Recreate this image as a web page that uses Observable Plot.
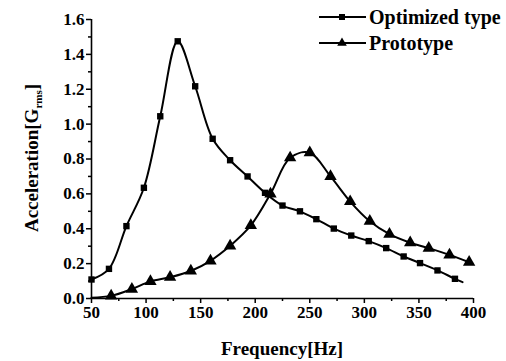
<!DOCTYPE html>
<html>
<head>
<meta charset="utf-8">
<script src="https://cdn.jsdelivr.net/npm/d3@7"></script>
<script src="https://cdn.jsdelivr.net/npm/@observablehq/plot@0.6"></script>
<style>
  html, body { margin: 0; padding: 0; background: #fff; }
  #chart { width: 506px; height: 361px; }
  #chart svg, #chart svg text { font-family: "Liberation Serif", "DejaVu Serif", serif !important; font-weight: bold; }
</style>
</head>
<body>
<div id="chart"></div>
<script>
// Optimized type (square markers)
const optFreq = [50, 66, 82, 98, 113, 129, 145, 161, 177, 193, 209, 225, 241, 256, 272, 288, 304, 320, 336, 351, 367, 383, 390];
const optAcc  = [0.109, 0.170, 0.415, 0.635, 1.045, 1.475, 1.217, 0.916, 0.793, 0.700, 0.606, 0.533, 0.500, 0.455, 0.401, 0.361, 0.329, 0.289, 0.241, 0.203, 0.161, 0.113, 0.094];
const optMarker = optFreq.map((_, i) => i < optFreq.length - 1);

// Prototype (triangle markers)
const protoFreq = [50, 68, 87, 104, 122, 141, 159, 177, 196, 214, 232, 250, 269, 287, 305, 323, 342, 359, 378, 396];
const protoAcc  = [0.005, 0.015, 0.054, 0.098, 0.122, 0.158, 0.216, 0.302, 0.419, 0.600, 0.807, 0.836, 0.700, 0.556, 0.443, 0.369, 0.320, 0.289, 0.250, 0.208];
const protoMarker = protoFreq.map((_, i) => i > 0);

const xTicks = [50, 100, 150, 200, 250, 300, 350, 400];
const xMinor = [75, 125, 175, 225, 275, 325, 375];
const yTicks = [0.0, 0.2, 0.4, 0.6, 0.8, 1.0, 1.2, 1.4, 1.6];
const yMinor = [0.1, 0.3, 0.5, 0.7, 0.9, 1.1, 1.3, 1.5];

const seriesNames = ["Optimized type", "Prototype"];
const xTitle = "Frequency[Hz]";
const yTitleMain = "Acceleration[G";
const yTitleSub = "rms";
const yTitleEnd = "]";

const opt = optFreq.map((f, i) => ({f, a: optAcc[i], m: optMarker[i]}));
const proto = protoFreq.map((f, i) => ({f, a: protoAcc[i], m: protoMarker[i]}));

const FONT = '"Liberation Serif", "DejaVu Serif", serif';

const chart = Plot.plot({
  width: 506,
  height: 361,
  marginLeft: 91,
  marginRight: 33,
  marginTop: 19,
  marginBottom: 63,
  style: {fontFamily: FONT, fontWeight: "bold", fontSize: "17px", color: "#000", background: "#fff", overflow: "visible"},
  x: {domain: [50, 400], label: null},
  y: {domain: [0, 1.6], label: null},
  marks: [
    Plot.axisX({ticks: xTicks, tickSize: 5, tickPadding: 2, tickFormat: d => String(d), strokeWidth: 1.5, fontSize: 17, fontWeight: "bold", fill: "#000"}),
    Plot.axisX({ticks: xMinor, tickSize: 3, text: null, strokeWidth: 1.5}),
    Plot.axisY({ticks: yTicks, tickSize: 5, tickPadding: 2, tickFormat: d3.format(".1f"), strokeWidth: 1.5, fontSize: 17, fontWeight: "bold", fill: "#000"}),
    Plot.axisY({ticks: yMinor, tickSize: 3, text: null, strokeWidth: 1.5}),
    Plot.ruleY([0], {stroke: "#000", strokeWidth: 1.6}),
    Plot.ruleX([50], {stroke: "#000", strokeWidth: 1.6}),
    Plot.line(opt, {x: "f", y: "a", curve: "catmull-rom", stroke: "#000", strokeWidth: 2}),
    Plot.line(proto, {x: "f", y: "a", curve: "catmull-rom", stroke: "#000", strokeWidth: 2}),
    Plot.dot(opt.filter(d => d.m), {x: "f", y: "a", symbol: "square", r: 3.6, fill: "#000", stroke: "none"}),
    Plot.dot(proto.filter(d => d.m), {x: "f", y: "a", symbol: "triangle", r: 4.6, fill: "#000", stroke: "none"})
  ]
});

document.getElementById("chart").appendChild(chart);

// Titles and legend drawn into the same SVG
const svg = d3.select(chart);
svg.append("text")
  .attr("x", 282).attr("y", 355)
  .attr("text-anchor", "middle")
  .style("font-family", FONT).style("font-weight", "bold").style("font-size", "19px")
  .attr("fill", "#000")
  .text(xTitle);

const yt = svg.append("text")
  .attr("transform", "translate(38,158) rotate(-90)")
  .attr("text-anchor", "middle")
  .style("font-family", FONT).style("font-weight", "bold").style("font-size", "19px")
  .attr("fill", "#000");
yt.append("tspan").text(yTitleMain);
yt.append("tspan").attr("dy", 4).style("font-size", "11px").text(yTitleSub);
yt.append("tspan").attr("dy", -4).text(yTitleEnd);

const legendY = [17, 43];
const legendSym = [d3.symbolSquare, d3.symbolTriangle];
const legendSymSize = [36, 40];
seriesNames.forEach((name, i) => {
  const g = svg.append("g").attr("transform", `translate(0,${legendY[i]})`);
  g.append("line").attr("x1", 319).attr("x2", 366).attr("y1", 0).attr("y2", 0)
    .attr("stroke", "#000").attr("stroke-width", 2);
  g.append("path").attr("d", d3.symbol(legendSym[i], legendSymSize[i])())
    .attr("transform", "translate(342,0)").attr("fill", "#000");
  g.append("text").attr("x", 369).attr("y", 0).attr("dy", "0.35em")
    .attr("text-anchor", "start")
    .style("font-family", FONT).style("font-weight", "bold").style("font-size", "20px")
    .attr("fill", "#000").text(name);
});
</script>
</body>
</html>
